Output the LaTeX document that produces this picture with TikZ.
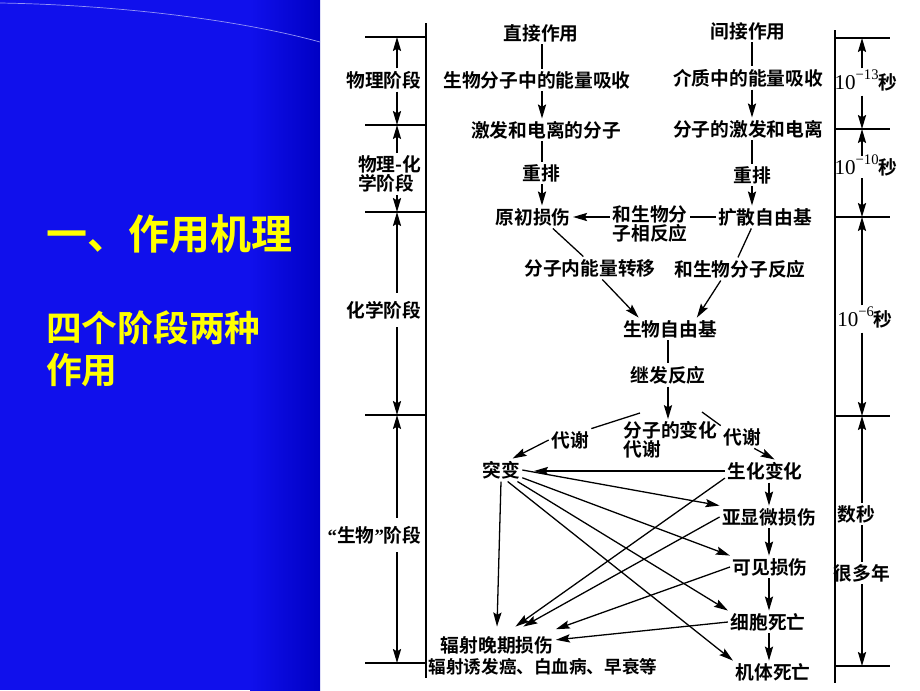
\documentclass[tikz,border=0pt]{standalone}
\usepackage{fontspec}
\setmainfont{Liberation Serif}
\newfontfamily\cjk{Noto Sans CJK SC}[BoldFont={Noto Sans CJK SC Bold}]
\newfontfamily\lat{Liberation Serif}
\usepackage{xcolor}
\usetikzlibrary{arrows.meta}

\definecolor{panelblue}{RGB}{16,16,236}
\definecolor{paneldark}{RGB}{0,0,196}
\definecolor{titleyellow}{RGB}{255,255,0}
\newcommand{\tsup}[1]{\raisebox{0.5em}[0pt][0pt]{\lat\mdseries\fontsize{12.5}{12.5}\selectfont #1}}
\newcommand{\tbase}[1]{{\lat\mdseries\fontsize{18}{18}\selectfont #1}}

\begin{document}
\begin{tikzpicture}[
    x=0.03cm, y=-0.03cm,
    txt/.style={inner sep=2pt, font=\cjk\bfseries\fontsize{16}{16}\selectfont},
    title/.style={anchor=west, inner sep=0pt, text=titleyellow, align=left},
    arrow/.style={-{Stealth[length=12pt, width=7pt, inset=2pt]}, line width=1.1pt},
    link/.style={line width=1.1pt},
    brk/.style={line width=1.1pt}
]
\useasboundingbox (0,0) rectangle (920,690);

% Panel
\fill[panelblue] (0,0) rectangle (320,690);
\shade[left color=panelblue, right color=paneldark] (250,0) rectangle (320,690);
\draw[white!55!panelblue, line width=0.6pt] (0,3) .. controls (120,5) and (240,20) .. (320,42);
\node[title, font=\cjk\bfseries\fontsize{35}{35}\selectfont] (head) at (46,234) {一、作用机理};
\node[title, font=\cjk\bfseries\fontsize{30.5}{35.5}\selectfont] (subhead) at (46,349) {四个阶段两种\\作用};

% Flow
\coordinate (colL) at (542,0);
\coordinate (colR) at (752,0);
\coordinate (colD) at (769,0);
\node[txt] (direct) at (541,33) {直接作用};
\node[txt] (indirect) at (748,31) {间接作用};
\node[txt] (bioabs) at (537,80) {生物分子中的能量吸收};
\node[txt] (medabs) at (748,78) {介质中的能量吸收};
\node[txt] (excmol) at (546,130) {激发和电离的分子};
\node[txt] (molexc) at (748,129) {分子的激发和电离};
\node[txt] (rearrL) at (541,173) {重排};
\node[txt] (rearrR) at (752,175) {重排};
\node[txt] (primary) at (533,217) {原初损伤};
\node[txt, align=center] (react) at (650,224) {和生物分\\子相反应};
\node[txt] (diffrad) at (765,217) {扩散自由基};
\node[txt] (intra) at (590,268) {分子内能量转移};
\node[txt] (biorct) at (740,269) {和生物分子反应};
\node[txt] (biorad) at (670,329) {生物自由基};
\node[txt] (second) at (668,375) {继发反应};
\node[txt, align=left, anchor=west] (molchg) at (621,440) {分子的变化\\代谢};
\node[txt] (metaL) at (570,440) {代谢};
\node[txt] (metaR) at (742,437) {代谢};
\node[txt] (mutation) at (501,470) {突变};
\node[txt] (biochem) at (765,471) {生化变化};
\node[txt] (submicro) at (769,517) {亚显微损伤};
\node[txt] (visible) at (770,567) {可见损伤};
\node[txt] (celldeath) at (768,622) {细胞死亡};
\node[txt] (death) at (773,672) {机体死亡};
\node[txt, inner ysep=8pt] (late) at (497,645) {辐射晚期损伤};
\node[txt, font=\cjk\bfseries\fontsize{15}{15}\selectfont] (lateex) at (543,667) {辐射诱发癌、白血病、早衰等};
\coordinate (splitL) at (640,413);
\coordinate (splitR) at (702,412);

\draw[link] (colL |- direct.south) -- (colL |- bioabs.north);
\draw[arrow] (colL |- bioabs.south) -- (colL |- excmol.north);
\draw[link] (colL |- excmol.south) -- (colL |- rearrL.north);
\draw[arrow] (colL |- rearrL.south) -- (colL |- primary.north);
\draw[link] (colR |- indirect.south) -- (colR |- medabs.north);
\draw[arrow] (colR |- medabs.south) -- (colR |- molexc.north);
\draw[link] (colR |- molexc.south) -- (colR |- rearrR.north);
\draw[arrow] (colR |- rearrR.south) -- (colR |- diffrad.north);
\draw[link] (diffrad.west) -- (diffrad.west -| react.east);
\draw[arrow] (react.west |- primary.east) -- (primary.east);
\draw[link] (primary.-30) -- (intra.120);
\draw[link] (diffrad.-140) -- (biorct.100);
\draw[arrow] (intra.-43) -- (biorad.160);
\draw[arrow] (biorct.-149) -- (biorad.23);
\draw[link] (second |- biorad.south) -- (second.north);
\draw[arrow] (second.south) -- (second.south |- molchg.north);
\draw[link] (splitL) -- (metaL.north east);
\draw[arrow] (metaL.west) -- (mutation.45);
\draw[link] (splitR) -- (metaR.north west);
\draw[arrow] (metaR.-43) -- (biochem.50);

% Late effects
\draw[arrow, shorten >=10pt] (biochem.west) -- (biochem.west -| mutation.east);
\draw[arrow] (colD |- biochem.south) -- (colD |- submicro.north);
\draw[arrow] (colD |- submicro.south) -- (colD |- visible.north);
\draw[arrow] (colD |- visible.south) -- (colD |- celldeath.north);
\draw[arrow] (colD |- celldeath.south) -- (colD |- death.north);
\draw[arrow] (mutation.east) -- (submicro.north west);
\draw[arrow] (mutation.-20) -- (visible.north west);
\draw[arrow] (mutation.-35) -- (celldeath.north west);
\draw[arrow] (mutation.-60) -- (death.north west);
\draw[arrow] (mutation.south) -- (late.north);
\draw[arrow] (biochem.190) -- (late.45);
\draw[arrow] (submicro.west) -- (late.35);
\draw[arrow] (visible.west) -- (late.15);
\draw[arrow] (celldeath.west) -- (late.5);

% Stages
\draw[brk] (426,23) -- (426,678);
\foreach \y in {37,125,212,415,663} \draw[brk] (365,\y) -- (426,\y);
\coordinate (lt1) at (397,37);
\coordinate (lt2) at (397,125);
\coordinate (lt3) at (397,212);
\coordinate (lt4) at (397,415);
\coordinate (lt5) at (397,663);
\node[txt, anchor=east] (physL) at (424,80) {物理阶段};
\node[txt, anchor=east, align=left] (pchemL) at (424,174) {物理-化\\学阶段};
\node[txt, anchor=east, inner ysep=7pt] (chemL) at (424,310) {化学阶段};
\node[txt, anchor=east, inner ysep=7pt] (bioL) at (424,535) {{\lat “}生物{\lat ”}阶段};
\draw[arrow] (physL.north -| lt1) -- (lt1);
\draw[arrow] (physL.south -| lt1) -- (lt2);
\draw[arrow] (pchemL.north -| lt1) -- (lt2);
\draw[arrow] (pchemL.south -| lt1) -- (lt3);
\draw[arrow] (chemL.north -| lt1) -- (lt3);
\draw[arrow] (chemL.south -| lt1) -- (lt4);
\draw[arrow] (bioL.north -| lt1) -- (lt4);
\draw[arrow] (bioL.south -| lt1) -- (lt5);

% Times
\draw[brk] (835,30) -- (835,683);
\foreach \y in {38,129,217,416,666} \draw[brk] (835,\y) -- (890,\y);
\coordinate (rt1) at (862,38);
\coordinate (rt2) at (862,129);
\coordinate (rt3) at (862,217);
\coordinate (rt4) at (862,416);
\coordinate (rt5) at (862,666);
\node[txt, inner ysep=4pt] (t13) at (866,82) {\tbase{10}\tsup{−13}秒};
\node[txt] (t10) at (866,167) {\tbase{10}\tsup{−10}秒};
\node[txt, inner ysep=4pt] (t6) at (865,319) {\tbase{10}\tsup{−6}秒};
\node[txt] (tsec) at (856,514) {数秒};
\node[txt] (tyear) at (862,573) {很多年};
\draw[arrow] (t13.north -| rt1) -- (rt1);
\draw[arrow] (t13.south -| rt1) -- (rt2);
\draw[arrow] (t10.north -| rt1) -- (rt2);
\draw[arrow] (t10.south -| rt1) -- (rt3);
\draw[arrow] (t6.north -| rt1) -- (rt3);
\draw[arrow] (t6.south -| rt1) -- (rt4);
\draw[arrow] (tsec.north -| rt1) -- (rt4);
\draw[brk] (tsec.south -| rt1) -- (tyear.north -| rt1);
\draw[arrow] (tyear.south -| rt1) -- (rt5);

\end{tikzpicture}
\end{document}
